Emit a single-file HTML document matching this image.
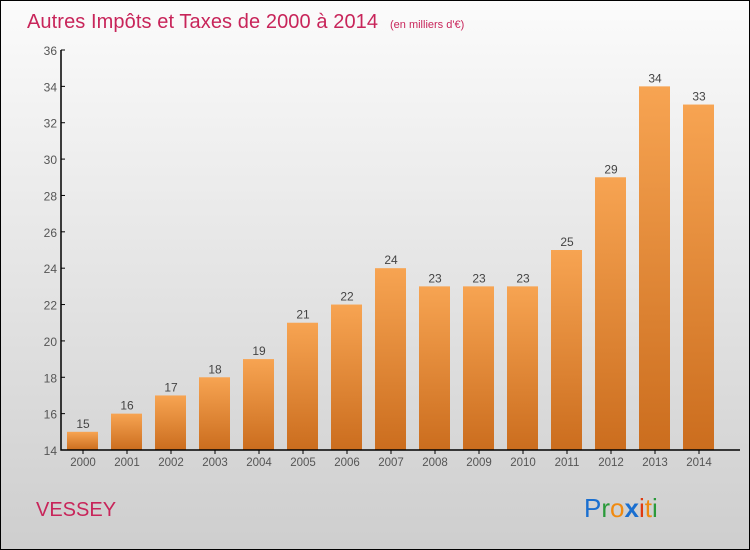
<!DOCTYPE html>
<html><head><meta charset="utf-8"><style>
body{margin:0;}
#wrap{width:750px;height:550px;box-sizing:border-box;border:1px solid #000;background:linear-gradient(#fbfbfb,#cecece);position:relative;font-family:"Liberation Sans",sans-serif;overflow:hidden}
svg text{font-family:"Liberation Sans",sans-serif}
</style></head><body>
<div id="wrap">
<svg id="c" width="750" height="550" style="position:absolute;left:-1px;top:-1px">
<defs><linearGradient id="bg" x1="0" y1="0" x2="0" y2="1"><stop offset="0" stop-color="#f7a452"/><stop offset="1" stop-color="#cb6d1e"/></linearGradient></defs>
<text x="27" y="28" font-size="20" fill="#c8255a" textLength="351">Autres Impôts et Taxes de 2000 à 2014</text>
<text x="390" y="28" font-size="11" fill="#c8255a">(en milliers d'€)</text>
<text x="36" y="516" font-size="20" fill="#c8255a">VESSEY</text>
<text x="584" y="517" font-size="26"><tspan fill="#1a6fd0">P</tspan><tspan fill="#2a9a3a">r</tspan><tspan fill="#f08a10">o</tspan><tspan fill="#1a6fd0" font-weight="bold">x</tspan><tspan fill="#e03a10">i</tspan><tspan fill="#f08a10">t</tspan><tspan fill="#2a9a3a">i</tspan></text>
<g id="g"></g>
</svg>
</div>
<script>
const years=["2000","2001","2002","2003","2004","2005","2006","2007","2008","2009","2010","2011","2012","2013","2014"];
const values=[15,16,17,18,19,21,22,24,23,23,23,25,29,34,33];
const yTicks=[14,16,18,20,22,24,26,28,30,32,34,36];
const NS="http://www.w3.org/2000/svg",g=document.getElementById('g');
const y=v=>450-(v-14)*(400/22);
const x=i=>82+i*44;
function mk(t,a,txt){const e=document.createElementNS(NS,t);for(const k in a)e.setAttribute(k,a[k]);if(txt!=null)e.textContent=txt;g.appendChild(e);return e;}
yTicks.forEach(v=>{
 const l=mk('line',{x1:61,x2:65,y1:y(v),y2:y(v),stroke:'#000'});
 
 
 const t=mk('text',{x:57,y:y(v)+5,'text-anchor':'end','font-size':12,fill:'#555'},v);
 
 
});
years.forEach((yr,i)=>{
 const r=mk('rect',{x:x(i)-15,y:y(values[i]),width:31,height:450-y(values[i]),fill:'url(#bg)'});
 
 
 const v=mk('text',{x:x(i)+1,y:y(values[i])-4,'text-anchor':'middle','font-size':12,fill:'#444'},values[i]);
 
 
 const tk=mk('line',{x1:x(i)+1,x2:x(i)+1,y1:450,y2:454,stroke:'#000'});
 
 
 const t=mk('text',{x:x(i)+1,y:466,'text-anchor':'middle','font-size':11.5,fill:'#555'},yr);
 
 
});
const ax=mk('path',{d:'M61 50 V450 H740',stroke:'#000','stroke-width':1.5,fill:'none'});


</script>
</body></html>
